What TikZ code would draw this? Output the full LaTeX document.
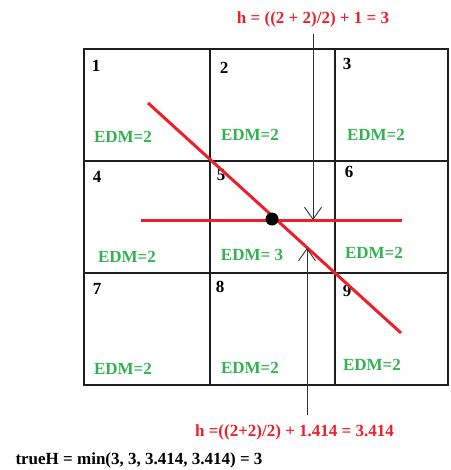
\documentclass[tikz,border=0pt]{standalone}
\usepackage{fontspec}
\setmainfont{Liberation Serif}
\usetikzlibrary{arrows.meta}
\definecolor{edmgreen}{RGB}{52,178,80}
\definecolor{hred}{RGB}{236,32,42}
\definecolor{gridline}{RGB}{30,30,30}
\begin{document}
\begin{tikzpicture}[x=1pt,y=-1pt,
  every node/.style={inner sep=0pt,outer sep=0pt},
  num/.style={font=\fontsize{17}{20}\selectfont\bfseries,text=black},
  edm/.style={font=\fontsize{17}{20}\selectfont\bfseries,text=edmgreen},
  formula/.style={font=\fontsize{17}{20}\selectfont\bfseries,text=hred,anchor=base},
  result/.style={font=\fontsize{17}{20}\selectfont\bfseries,text=black,anchor=base},
  hline/.style={draw=gridline,line width=2pt},
  vline/.style={draw=gridline,line width=1.2pt},
  redline/.style={draw=hred,line width=3pt},
  hint/.style={draw=black!80,line width=0.9pt,-{Straight Barb[length=12pt,width=17pt,line width=0.9pt]}}]
\useasboundingbox (0,0) rectangle (450,470);
% grid
\draw[hline] (83,49) -- (449,49);
\draw[hline] (83,161) -- (449,161);
\draw[hline] (83,273) -- (449,273);
\draw[hline] (83,385) -- (449,385);
\draw[draw=gridline,line width=2pt] (84,48) -- (84,386);
\draw[vline] (210,48) -- (210,386);
\draw[vline] (335,48) -- (335,386);
\draw[draw=gridline,line width=1.6pt] (448,48) -- (448,386);
% cell numbers
\node[num] (n1) at (96,66) {1};
\node[num] (n2) at (224,68) {2};
\node[num] (n3) at (347,64) {3};
\node[num] (n4) at (97,177) {4};
\node[num] (n5) at (221,175) {5};
\node[num] (n6) at (349,172) {6};
\node[num] (n7) at (97,289) {7};
\node[num] (n8) at (220,287) {8};
\node[num] (n9) at (347,291) {9};
% EDM labels
\node[edm] (e1) at (123,137) {EDM=2};
\node[edm] (e2) at (250,135) {EDM=2};
\node[edm] (e3) at (376,135) {EDM=2};
\node[edm] (e4) at (127,257) {EDM=2};
\node[edm] (e5) at (252,255) {EDM= 3};
\node[edm] (e6) at (374,253) {EDM=2};
\node[edm] (e7) at (123,369) {EDM=2};
\node[edm] (e8) at (250,368) {EDM=2};
\node[edm] (e9) at (372,365) {EDM=2};
% red lines
\coordinate (dA) at (148,103);
\coordinate (dB) at (401,333);
\coordinate (hA) at (141,220);
\coordinate (hB) at (402,220);
\draw[redline] (dA) -- (dB);
\draw[redline] (hA) -- (hB);
\node[circle,fill=black,minimum size=13pt] (dot) at (272,219) {};
% formulas and arrows
\node[formula] (ftop) at (313,24) {h = ((2 + 2)/2) + 1 = 3};
\coordinate (atop) at (313,34);
\coordinate (ttop) at (313,220);
\draw[hint] (atop) -- (ttop);
\node[formula] (fbot) at (294.5,436) {h =((2+2)/2) + 1.414 = 3.414};
\coordinate (abot) at (307,415);
\coordinate (tbot) at (307,248);
\draw[hint] (abot) -- (tbot);
\node[result] (trueH) at (139,464) {trueH = min(3, 3, 3.414, 3.414) = 3};
\end{tikzpicture}
\end{document}
